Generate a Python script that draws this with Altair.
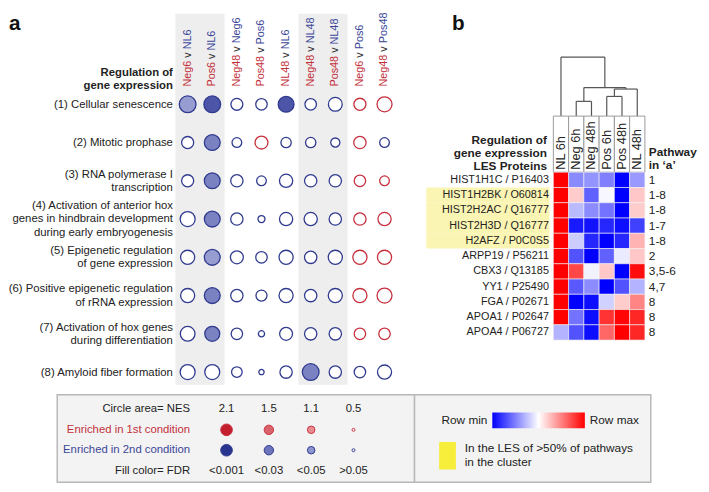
import json
import altair as alt
import pandas as pd

FONT = "Liberation Sans"
DARK = "#222222"
RED_T = "#c3303b"
BLUE_T = "#3b4699"
RED_S = "#c62f3b"
BLUE_S = "#2f3a8f"

# ---------------- data: panel a ----------------
pathway_lines = [
    ["(1) Cellular senescence"],
    ["(2) Mitotic prophase"],
    ["(3) RNA polymerase I", "transcription"],
    ["(4) Activation of anterior hox", "genes in hindbrain development", "during early embryogenesis"],
    ["(5) Epigenetic regulation", "of gene expression"],
    ["(6) Positive epigenetic regulation", "of rRNA expression"],
    ["(7) Activation of hox genes", "during differentiation"],
    ["(8) Amyloid fiber formation"],
]
cmp_first = ["Neg6", "Pos6", "Neg48", "Pos48", "NL48", "Neg48", "Pos48", "Neg6", "Neg48"]
cmp_second = ["NL6", "NL6", "Neg6", "Pos6", "NL6", "NL48", "NL48", "Pos6", "Pos48"]
shaded_cols = [0, 1, 5, 6]

nes = [
    [2.10, 2.10, 1.06, 0.98, 1.88, 0.98, 1.43, 1.09, 1.68],
    [1.09, 1.88, 0.70, 1.25, 0.80, 0.80, 0.62, 1.14, 0.70],
    [1.09, 1.88, 1.14, 0.70, 1.31, 1.14, 1.14, 0.98, 0.70],
    [1.68, 1.88, 1.14, 0.37, 1.31, 1.31, 1.14, 1.14, 1.31],
    [1.49, 1.88, 1.25, 0.98, 1.49, 1.14, 1.49, 1.49, 1.49],
    [1.49, 1.88, 1.14, 0.91, 1.49, 1.14, 1.49, 1.49, 1.68],
    [1.62, 1.68, 0.98, 0.29, 1.25, 1.14, 1.14, 0.98, 0.98],
    [1.68, 1.68, 0.84, 0.21, 1.14, 2.10, 1.14, 0.98, 1.49],
]
# enriched in 1st ("1") or 2nd ("2") condition
enriched = [
    "222222211",
    "222122212",
    "222222211",
    "222222211",
    "222222211",
    "222222211",
    "222222211",
    "222222222",
]
fdr = [
    ["<0.05", "<0.001", ">0.05", ">0.05", "<0.001", ">0.05", ">0.05", ">0.05", ">0.05"],
    [">0.05", "<0.03", ">0.05", ">0.05", ">0.05", ">0.05", ">0.05", ">0.05", ">0.05"],
    [">0.05", "<0.03", ">0.05", ">0.05", ">0.05", ">0.05", ">0.05", ">0.05", ">0.05"],
    [">0.05", "<0.03", ">0.05", ">0.05", ">0.05", ">0.05", ">0.05", ">0.05", ">0.05"],
    [">0.05", "<0.05", ">0.05", ">0.05", ">0.05", ">0.05", ">0.05", ">0.05", ">0.05"],
    [">0.05", "<0.03", ">0.05", ">0.05", ">0.05", ">0.05", ">0.05", ">0.05", ">0.05"],
    [">0.05", "<0.03", ">0.05", ">0.05", ">0.05", ">0.05", ">0.05", ">0.05", ">0.05"],
    [">0.05", ">0.05", ">0.05", ">0.05", ">0.05", "<0.03", ">0.05", ">0.05", ">0.05"],
]

# ---------------- data: panel b ----------------
proteins = ["HIST1H1C / P16403", "HIST1H2BK / O60814", "HIST2H2AC / Q16777",
            "HIST2H3D / Q16777", "H2AFZ / P0C0S5", "ARPP19 / P56211", "CBX3 / Q13185",
            "YY1 / P25490", "FGA / P02671", "APOA1 / P02647", "APOA4 / P06727"]
pathway_in_a = ["1", "1-8", "1-8", "1-7", "1-8", "2", "3,5-6", "4,7", "8", "8", "8"]
highlighted = [1, 2, 3, 4]
conditions = ["NL 6h", "Neg 6h", "Neg 48h", "Pos 6h", "Pos 48h", "NL 48h"]
heat = [
    [1.00, -0.46, -0.42, -0.50, -1.00, -0.40],
    [1.00, 0.20, -0.62, -0.03, -1.00, 0.22],
    [1.00, -0.27, -0.45, -0.55, -1.00, 0.20],
    [1.00, -0.90, -0.93, -0.85, -0.95, -0.75],
    [1.00, -0.20, -0.85, -1.00, -0.85, 0.30],
    [1.00, -0.68, -1.00, -0.62, -0.08, 0.22],
    [1.00, 0.72, -0.05, 0.22, -1.00, 0.95],
    [1.00, -0.65, -0.45, -1.00, -0.68, -0.30],
    [1.00, -1.00, -0.95, -0.18, 0.20, 0.48],
    [1.00, -0.55, -0.95, 0.80, 0.98, 0.85],
    [-0.30, -0.68, -0.95, 0.60, 1.00, 0.85],
]
# dendrogram merges (left id, right id, height); leaves 0..5, new clusters 6..
merges = [(1, 2, 15.0), (3, 4, 20.0), (7, 5, 27.5), (6, 8, 29.0), (0, 9, 60.0)]

# ---------------- data: key ----------------
key_rows = ["Circle area= NES", "Enriched in 1st condition", "Enriched in 2nd condition", "Fill color= FDR"]
key_nes_lbl = ["2.1", "1.5", "1.1", "0.5"]
key_nes_val = [2.1, 1.5, 1.1, 0.5]
key_fdr = ["<0.001", "<0.03", "<0.05", ">0.05"]

fill_dom = ["2|<0.001", "2|<0.03", "2|<0.05", "2|>0.05", "1|<0.001", "1|<0.03", "1|<0.05", "1|>0.05"]
fill_rng_a = ["#4c55a7", "#7b82c2", "#979dd0", "#ffffff", "#c41f2f", "#d9636c", "#e98d93", "#ffffff"]
fill_rng_k = ["#29348f", "#6c74bc", "#8e94ce", "#ffffff", "#c41f2f", "#d9636c", "#e98d93", "#ffffff"]

# Arial / Liberation Sans advance widths (1/1000 em) for placing the coloured header parts
ARIAL_W = {"N": 722, "e": 556, "g": 556, "P": 667, "o": 556, "s": 500, "L": 556, "v": 500,
           " ": 278, "0": 556, "1": 556, "2": 556, "3": 556, "4": 556, "5": 556, "6": 556,
           "7": 556, "8": 556, "9": 556}
HDR_FS = 11


def text_w(s, fs=HDR_FS):
    return sum(ARIAL_W.get(ch, 556) for ch in s) * fs / 1000.0


# ================= panel a =================
A_W, A_H = 345, 377
xs_a = alt.Scale(domain=[-5.3, 8.5], nice=False, zero=False)
Y_TOP, Y_BOT = -1.367, 8.334
ys_a = alt.Scale(domain=[Y_TOP, Y_BOT], reverse=True, nice=False, zero=False)
LH = 13.5
unit = A_H / (Y_BOT - Y_TOP)
HDR_ANCHOR = 0.537
# multi-line labels are drawn downward from their anchor: shift anchor up to centre the block
tick_vals = [i + 1 - (len(lines) - 1) * LH / 2 / unit for i, lines in enumerate(pathway_lines)]

lab_expr = " : ".join(
    f"round(datum.value + 0.4) == {i + 1} ? {json.dumps(lines)}" for i, lines in enumerate(pathway_lines)
) + " : ''"
ax_a = alt.Axis(values=tick_vals, labelExpr=lab_expr, domain=False, ticks=False,
                grid=False, offset=-120, labelPadding=3, labelFontSize=11.5, labelColor=DARK,
                labelFont=FONT, labelLineHeight=LH, labelOverlap=False, labelFlush=False,
                zindex=1, title=["Regulation of", "gene expression"], titleAngle=0,
                titleAlign="right", titleBaseline="middle", titleX=-3, titleY=60,
                titleFontSize=11.5, titleFontWeight="bold", titleColor=DARK, titleFont=FONT,
                titleLineHeight=13)

rows = []
for i in range(len(pathway_lines)):
    for j in range(len(cmp_first)):
        d = enriched[i][j]
        rows.append({"c": j, "r": i + 1, "nes": nes[i][j], "dir": d,
                     "key": f"{d}|{fdr[i][j]}"})
df_c = pd.DataFrame(rows)
df_shade = pd.DataFrame({"c0": [k - 0.5 for k in shaded_cols], "c1": [k + 0.5 for k in shaded_cols],
                         "top": Y_TOP, "bot": Y_BOT})
df_hdr = pd.DataFrame({
    "c": list(range(len(cmp_first))),
    "first": cmp_first,
    "second": cmp_second,
    "y1": HDR_ANCHOR,
    "yv": [HDR_ANCHOR - text_w(a + " ") / unit for a in cmp_first],
    "y2": [HDR_ANCHOR - text_w(a + " v ") / unit for a in cmp_first],
})

xa = alt.X("c:Q", scale=xs_a, axis=None)


def hdr_layer(field, yfield, color, txt=None):
    mk = dict(angle=270, align="left", baseline="middle", fontSize=HDR_FS, color=color)
    enc = dict(x=xa, y=alt.Y(f"{yfield}:Q", scale=ys_a, axis=ax_a))
    if txt is None:
        enc["text"] = f"{field}:N"
    else:
        mk["text"] = txt
    return alt.Chart(df_hdr).mark_text(**mk).encode(**enc)


shade = alt.Chart(df_shade).mark_rect(color="#eeeeee").encode(
    x=alt.X("c0:Q", scale=xs_a, axis=None), x2="c1:Q",
    y=alt.Y("top:Q", scale=ys_a, axis=ax_a), y2="bot:Q")
hdr_red = hdr_layer("first", "y1", RED_T)
hdr_v = hdr_layer(None, "yv", "#333333", txt="v")
hdr_blue = hdr_layer("second", "y2", BLUE_T)
circles = alt.Chart(df_c).mark_circle(opacity=1, strokeWidth=1.3).encode(
    x=xa,
    y=alt.Y("r:Q", scale=ys_a, axis=ax_a),
    size=alt.Size("nes:Q", scale=alt.Scale(domain=[0, 2.1], range=[0, 290]), legend=None),
    fill=alt.Fill("key:N", scale=alt.Scale(domain=fill_dom, range=fill_rng_a), legend=None),
    stroke=alt.Stroke("dir:N", scale=alt.Scale(domain=["1", "2"], range=[RED_S, BLUE_S]), legend=None),
)
letter_a = alt.Chart(pd.DataFrame({"t": ["a"]})).mark_text(
    align="left", baseline="alphabetic", fontSize=21, fontWeight="bold", color="#111111"
).encode(x=alt.value(-49), y=alt.value(17), text="t:N")

panel_a = alt.layer(shade, hdr_red, hdr_v, hdr_blue, circles, letter_a).properties(width=A_W, height=A_H)

# ================= panel b =================
pos = {i: (float(i), 0.0) for i in range(len(conditions))}
segs = []
nid = len(conditions)
for l, r, h in merges:
    xl, hl = pos[l]
    xr, hr = pos[r]
    segs.append({"x": xl, "x2": xl, "y": hl, "y2": h})
    segs.append({"x": xr, "x2": xr, "y": hr, "y2": h})
    segs.append({"x": xl, "x2": xr, "y": h, "y2": h})
    pos[nid] = ((xl + xr) / 2, h)
    nid += 1
df_seg = pd.DataFrame(segs)

dend = alt.Chart(df_seg).mark_rule(color="#555555", strokeWidth=1.2).encode(
    x=alt.X("x:Q", scale=alt.Scale(domain=[-0.5, len(conditions) - 0.5], nice=False, zero=False), axis=None),
    x2="x2:Q",
    y=alt.Y("y:Q", scale=alt.Scale(domain=[0, 104], nice=False), axis=None),
    y2="y2:Q",
)
letter_b = alt.Chart(pd.DataFrame({"t": ["b"]})).mark_text(
    align="left", baseline="alphabetic", fontSize=21, fontWeight="bold", color="#111111"
).encode(x=alt.value(-103), y=alt.value(17), text="t:N")
dend_chart = alt.layer(dend, letter_b).properties(width=93, height=104)

xs_b = alt.Scale(domain=conditions, paddingInner=0, paddingOuter=0)
header = alt.Chart(pd.DataFrame({"cond": conditions})).mark_rect(
    fill="white", stroke="#999999", strokeWidth=1
).encode(
    x=alt.X("cond:N", scale=xs_b,
            axis=alt.Axis(orient="bottom", labelAngle=270, labelAlign="left", labelBaseline="middle",
                          labelPadding=-3, ticks=False, domain=False, title=None, labelFontSize=13,
                          labelColor=DARK, labelFont=FONT, zindex=1, labelOverlap=False))
).properties(width=93, height=57)

heat_rows = []
for i, p in enumerate(proteins):
    for j, c in enumerate(conditions):
        heat_rows.append({"protein": p, "cond": c, "v": heat[i][j]})
df_heat = pd.DataFrame(heat_rows)

ys_b = alt.Scale(domain=proteins, paddingInner=0, paddingOuter=0)
ax_left = alt.Axis(orient="left", domain=False, ticks=False, labelPadding=5, labelFontSize=11,
                   labelColor=DARK, labelFont=FONT, zindex=1, labelOverlap=False,
                   title=["Regulation of", "gene expression", "LES Proteins"], titleAngle=0,
                   titleAlign="right", titleBaseline="middle", titleX=-7, titleY=-33,
                   titleFontSize=12, titleFontWeight="bold", titleFont=FONT, titleColor=DARK,
                   titleLineHeight=13)

yellow = alt.Chart(pd.DataFrame({"protein": [proteins[k] for k in highlighted]})).mark_rect(
    color="#fbf5b3"
).encode(y=alt.Y("protein:N", scale=ys_b, axis=ax_left), x=alt.value(-129), x2=alt.value(-4))
cells = alt.Chart(df_heat).mark_rect(stroke="#f2f2f2", strokeWidth=0.6).encode(
    x=alt.X("cond:N", scale=xs_b, axis=None),
    y=alt.Y("protein:N", scale=ys_b, axis=ax_left),
    color=alt.Color("v:Q", scale=alt.Scale(domain=[-1, 0, 1], range=["#0000ff", "#ffffff", "#ff0000"],
                                           interpolate="rgb"), legend=None),
)
path_txt = alt.Chart(pd.DataFrame({"protein": proteins, "pw": pathway_in_a})).mark_text(
    align="left", baseline="middle", fontSize=12, color=DARK
).encode(y=alt.Y("protein:N", scale=ys_b, axis=ax_left), x=alt.value(97), text="pw:N")
path_title = alt.Chart(pd.DataFrame({"t": ["x"]})).mark_text(
    align="left", baseline="middle", fontSize=12, fontWeight="bold", color=DARK, lineHeight=13,
    lineBreak="\n", text="Pathway\nin \u2018a\u2019"
).encode(x=alt.value(97), y=alt.value(-20))
heat_chart = alt.layer(yellow, cells, path_txt, path_title).properties(width=93, height=170.5)

RES = dict(color="independent", fill="independent", stroke="independent", size="independent")
panel_b = alt.vconcat(dend_chart, header, heat_chart, spacing=0, bounds="flush").resolve_scale(**RES)

top = alt.hconcat(panel_a, panel_b, spacing=159, bounds="flush").resolve_scale(**RES)

# ================= key =================
KEY_W1, KEY_W2, KEY_H = 363, 240, 89
xs_k = alt.Scale(domain=[-4.0, 4.442], nice=False, zero=False)
ys_k = alt.Scale(domain=[-0.725, 3.575], reverse=True, nice=False, zero=False)
xk = alt.X("i:Q", scale=xs_k, axis=None)

one = pd.DataFrame({"t": ["x"]})
# invisible spacer so that the key lines up under panel a's plot area
spacer = alt.Chart(one).mark_rect(opacity=0).encode(
    x=alt.value(-50), x2=alt.value(0), y=alt.value(0), y2=alt.value(1))
box_l = alt.Chart(one).mark_rect(fill="#f3f3f3", stroke="#b8b8b8", strokeWidth=1.5).encode(
    x=alt.value(0), x2=alt.value(KEY_W1), y=alt.value(0), y2=alt.value(KEY_H))
k_labels = alt.Chart(pd.DataFrame({"row": key_rows, "ri": list(range(4))})).mark_text(
    align="right", baseline="middle", fontSize=11.5
).encode(x=alt.value(135), y=alt.Y("ri:Q", scale=ys_k, axis=None), text="row:N",
         color=alt.Color("row:N", scale=alt.Scale(domain=key_rows, range=[DARK, RED_T, BLUE_T, DARK]),
                         legend=None))
k_nes = alt.Chart(pd.DataFrame({"i": list(range(4)), "lbl": key_nes_lbl, "ri": 0})).mark_text(
    baseline="middle", fontSize=11.5, color=DARK
).encode(x=xk, y=alt.Y("ri:Q", scale=ys_k, axis=None), text="lbl:N")
k_fdr = alt.Chart(pd.DataFrame({"i": list(range(4)), "fdr": key_fdr, "ri": 3})).mark_text(
    baseline="middle", fontSize=11.5, color=DARK
).encode(x=xk, y=alt.Y("ri:Q", scale=ys_k, axis=None), text="fdr:N")
kc = []
for d, ri in (("1", 1), ("2", 2)):
    for i, (v, f) in enumerate(zip(key_nes_val, key_fdr)):
        kc.append({"i": i, "ri": ri, "nes": v, "dir": d, "key": f"{d}|{f}"})
k_circ = alt.Chart(pd.DataFrame(kc)).mark_circle(opacity=1, strokeWidth=1).encode(
    x=xk, y=alt.Y("ri:Q", scale=ys_k, axis=None),
    size=alt.Size("nes:Q", scale=alt.Scale(domain=[0.5, 2.1], range=[9, 140], zero=False), legend=None),
    fill=alt.Fill("key:N", scale=alt.Scale(domain=fill_dom, range=fill_rng_k), legend=None),
    stroke=alt.Stroke("dir:N", scale=alt.Scale(domain=["1", "2"], range=[RED_S, BLUE_S]), legend=None),
)
key_l = alt.layer(spacer, box_l, k_labels, k_nes, k_fdr, k_circ).properties(width=KEY_W1, height=KEY_H)

box_r = alt.Chart(one).mark_rect(fill="#f3f3f3", stroke="#b8b8b8", strokeWidth=1.5).encode(
    x=alt.value(0), x2=alt.value(KEY_W2), y=alt.value(0), y2=alt.value(KEY_H))
grad = alt.Chart(one).mark_rect(
    fill=alt.Gradient(gradient="linear", x1=0, x2=1, y1=0, y2=0,
                      stops=[alt.GradientStop(offset=0, color="#0000ff"),
                             alt.GradientStop(offset=0.5, color="#ffffff"),
                             alt.GradientStop(offset=1, color="#ff0000")])
).encode(x=alt.value(79), x2=alt.value(173), y=alt.value(18), y2=alt.value(34))
t_min = alt.Chart(one).mark_text(align="right", baseline="middle", fontSize=12, color=DARK,
                                 text="Row min").encode(x=alt.value(74), y=alt.value(26))
t_max = alt.Chart(one).mark_text(align="left", baseline="middle", fontSize=12, color=DARK,
                                 text="Row max").encode(x=alt.value(178), y=alt.value(26))
ysq = alt.Chart(one).mark_rect(color="#f7ee3b").encode(
    x=alt.value(25), x2=alt.value(42), y=alt.value(48), y2=alt.value(76))
cap1 = alt.Chart(one).mark_text(align="left", baseline="middle", fontSize=12, color=DARK,
                                text="In the LES of >50% of pathways").encode(x=alt.value(51), y=alt.value(54))
cap2 = alt.Chart(one).mark_text(align="left", baseline="middle", fontSize=12, color=DARK,
                                text="in the cluster").encode(x=alt.value(51), y=alt.value(68))
key_r = alt.layer(box_r, grad, t_min, t_max, ysq, cap1, cap2).properties(width=KEY_W2, height=KEY_H)

key = alt.hconcat(key_l, key_r, spacing=0, bounds="flush").resolve_scale(**RES)

chart = alt.vconcat(top, key, spacing=9).resolve_scale(**RES).properties(
    padding={"left": 0, "top": 0, "right": 4, "bottom": 4}, background="white"
).configure(font=FONT).configure_view(strokeWidth=0)

chart.save("out.html", embed_options={"renderer": "svg", "actions": False})
